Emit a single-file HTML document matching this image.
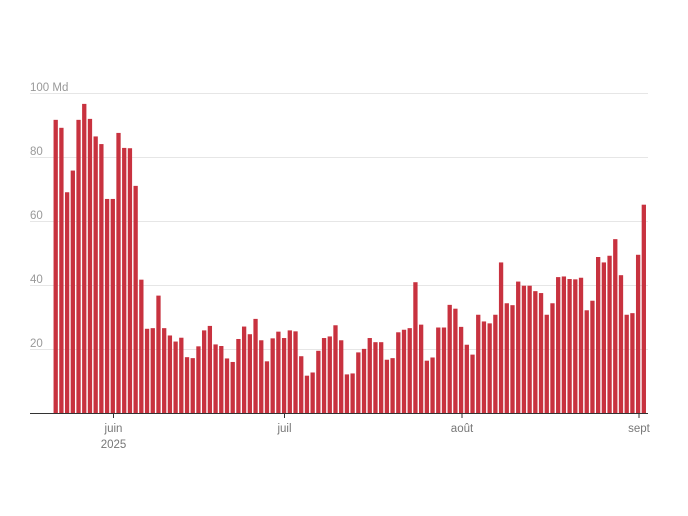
<!DOCTYPE html>
<html><head><meta charset="utf-8"><style>
html,body{margin:0;padding:0;background:#fff;}
svg{display:block;font-family:"Liberation Sans",sans-serif;}
</style></head><body>
<svg id="c" width="688" height="516" viewBox="0 0 688 516" xmlns="http://www.w3.org/2000/svg">
<g stroke="#e6e6e6" stroke-width="1">
<line x1="30" y1="93.5" x2="648" y2="93.5"/>
<line x1="30" y1="157.5" x2="648" y2="157.5"/>
<line x1="30" y1="221.5" x2="648" y2="221.5"/>
<line x1="30" y1="285.5" x2="648" y2="285.5"/>
<line x1="30" y1="349.5" x2="648" y2="349.5"/>
</g>
<g fill="#999" font-size="11.5">
<text x="30" y="91">100 Md</text>
<text x="30" y="155">80</text>
<text x="30" y="219">60</text>
<text x="30" y="283">40</text>
<text x="30" y="347">20</text>
</g>
<g id="bars" fill="#c8323f"></g>
<line x1="30" y1="413.5" x2="648" y2="413.5" stroke="#333" stroke-width="1"/>
<g stroke="#333" stroke-width="1">
<line x1="113.5" y1="413" x2="113.5" y2="418"/>
<line x1="284.5" y1="413" x2="284.5" y2="418"/>
<line x1="462" y1="413" x2="462" y2="418"/>
<line x1="639" y1="413" x2="639" y2="418"/>
</g>
<g fill="#777" font-size="11.5" text-anchor="middle">
<text x="113.5" y="432">juin</text>
<text x="113.5" y="448">2025</text>
<text x="284.5" y="432">juil</text>
<text x="462" y="432">août</text>
<text x="639" y="432">sept</text>
</g>
</svg>
<script>
var v=[91.9,89.4,69.2,76,91.9,96.9,92.2,86.7,84.3,67.1,67.1,87.8,83.1,83,71.2,41.8,26.4,26.6,36.8,26.6,24.3,22.4,23.6,17.5,17.2,20.9,25.9,27.3,21.5,21,17.1,16,23.2,27.1,24.7,29.5,22.8,16.2,23.4,25.5,23.5,25.9,25.6,17.8,11.7,12.7,19.5,23.5,24,27.5,22.8,12.1,12.4,19,20.1,23.5,22.2,22.2,16.7,17.2,25.3,26.1,26.6,41,27.7,16.4,17.4,26.8,26.8,33.9,32.7,27,21.4,18.3,30.8,28.7,28.1,30.8,47.2,34.4,33.8,41.2,39.9,39.9,38.2,37.6,30.8,34.4,42.6,42.8,42,41.9,42.4,32.2,35.2,48.9,47.2,49.3,54.5,43.2,30.8,31.3,49.6,65.3];
var g=document.getElementById('bars'),s='';
for(var k=0;k<v.length;k++){var h=v[k]*3.19;s+='<rect x="'+(53.55+5.71*k).toFixed(2)+'" y="'+(413-h).toFixed(2)+'" width="4.3" height="'+h.toFixed(2)+'"/>';}
g.innerHTML=s;
</script>
</body></html>
